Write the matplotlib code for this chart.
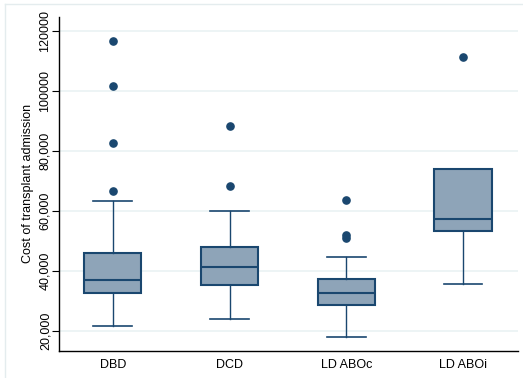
import matplotlib
matplotlib.use("Agg")
import matplotlib.pyplot as plt
from matplotlib.lines import Line2D

# Cost of transplant admission by donor type
groups = ["DBD", "DCD", "LD ABOc", "LD ABOi"]
whisker_low = [21600, 23800, 18000, 35500]
q1 = [32500, 35200, 28600, 53200]
median = [36900, 41100, 32700, 57100]
q3 = [45800, 48000, 37100, 73800]
whisker_high = [63300, 60000, 44600, 73800]
outliers = [
    [116500, 101500, 82600, 66500],
    [88100, 68300],
    [63500, 51900, 50800],
    [111200],
]

yticks = [20000, 40000, 60000, 80000, 100000, 120000]
ytick_labels = ["20,000", "40,000", "60,000", "80,000", "100000", "120000"]

navy = "#1a476f"
fill = "#8ea4b8"
grid = "#eaf2f3"

plt.rcParams["font.family"] = ["Liberation Sans", "DejaVu Sans"]

fig = plt.figure(figsize=(5.23, 3.78), dpi=100)
ax = fig.add_axes([59 / 523, 1 - 350.7 / 378, (518 - 59) / 523, (350.7 - 17) / 378])

stats = []
for i, g in enumerate(groups):
    stats.append(dict(label=g, whislo=whisker_low[i], q1=q1[i], med=median[i],
                      q3=q3[i], whishi=whisker_high[i], fliers=outliers[i]))

ax.bxp(stats, positions=range(1, len(groups) + 1), widths=0.49, patch_artist=True,
       showfliers=True,
       boxprops=dict(facecolor=fill, edgecolor=navy, linewidth=1.5),
       medianprops=dict(color=navy, linewidth=1.5),
       whiskerprops=dict(color=navy, linewidth=1.0),
       capprops=dict(color=navy, linewidth=1.2),
       capwidths=0.33,
       flierprops=dict(marker="o", markerfacecolor=navy, markeredgecolor=navy,
                       markersize=5.2, linestyle="none"))

ax.set_xlim(0.54, 4.47)
ax.set_ylim(13300, 124600)
ax.set_yticks(yticks)
ax.set_yticklabels(ytick_labels, rotation=90, va="center", fontsize=9)
ax.set_xticklabels(groups, fontsize=9)
ax.tick_params(axis="x", length=0, pad=6)
ax.tick_params(axis="y", length=5, width=0.8, pad=0.5)
ax.set_ylabel("Cost of transplant admission", fontsize=9, labelpad=4)

ax.yaxis.grid(True, color=grid, linewidth=1.2)
ax.set_axisbelow(True)
for s in ("top", "right"):
    ax.spines[s].set_visible(False)
for s in ("left", "bottom"):
    ax.spines[s].set_linewidth(1.0)
    ax.spines[s].set_color("black")

# light outer frame of the graph region
fig.add_artist(Line2D([5 / 523, 1], [1 - 4 / 378] * 2, transform=fig.transFigure,
                      color="#e4ecee", linewidth=1))
fig.add_artist(Line2D([5 / 523] * 2, [0, 1 - 4 / 378], transform=fig.transFigure,
                      color="#e4ecee", linewidth=1))

fig.savefig("out.png", dpi=100)
